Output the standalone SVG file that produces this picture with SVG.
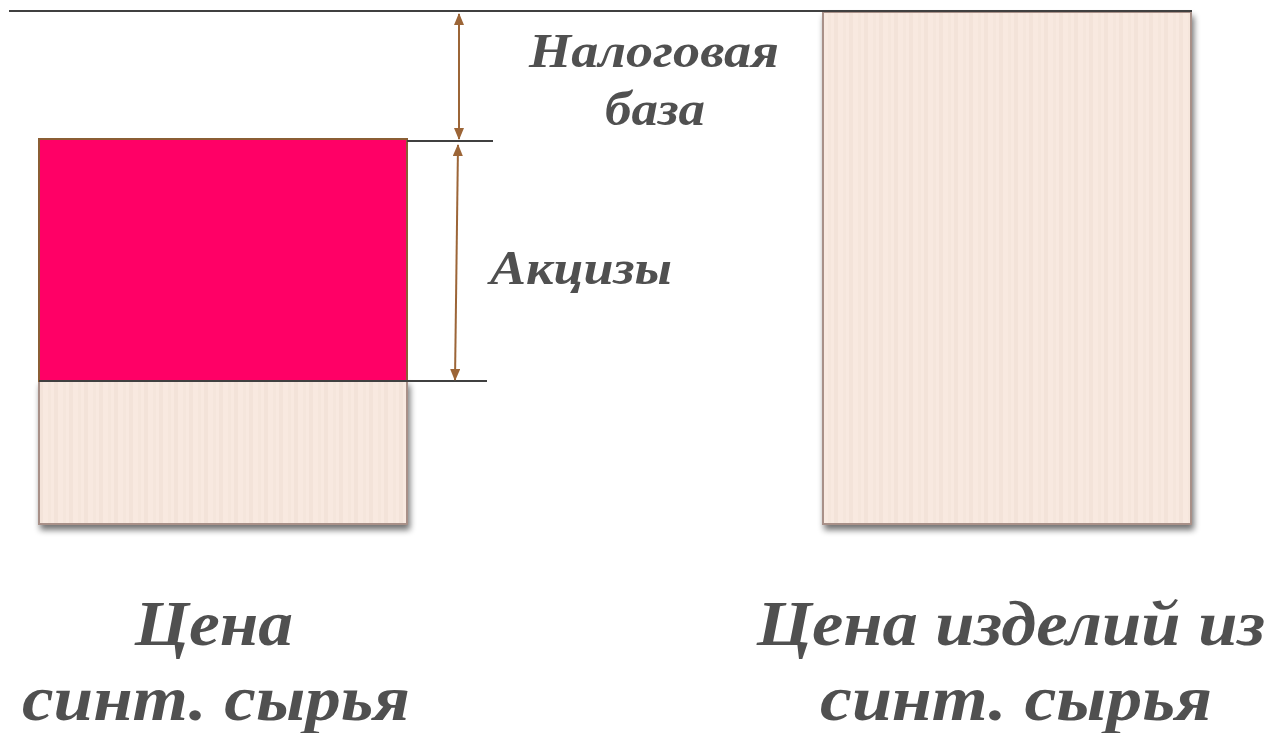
<svg xmlns="http://www.w3.org/2000/svg" width="1278" height="733" viewBox="0 0 1278 733">
<defs>
<style>
.lbl{font-family:"Liberation Serif","DejaVu Serif",serif;font-weight:bold;font-style:italic;fill:#505050;text-anchor:middle}
.dim{stroke:#9C6537;stroke-width:2;fill:none;marker-start:url(#ah);marker-end:url(#ah)}
.ref{stroke:#404040;stroke-width:2}
.beige{fill:url(#stripes);stroke:#A89088;stroke-width:2;filter:url(#sh)}
</style>
<pattern id="stripes" patternUnits="userSpaceOnUse" width="15" height="10" x="39">
<rect width="15" height="10" fill="#F8E9E0"/>
<rect x="0" width="4" height="10" fill="#F3E3D9"/>
<rect x="9" width="3" height="10" fill="#F5E6DC"/>
</pattern>
<filter id="sh" x="-5%" y="-5%" width="115%" height="115%">
<feGaussianBlur in="SourceAlpha" stdDeviation="3"/>
<feOffset dx="2" dy="5" result="b"/>
<feComponentTransfer><feFuncA type="linear" slope="0.55"/></feComponentTransfer>
<feMerge><feMergeNode/><feMergeNode in="SourceGraphic"/></feMerge>
</filter>
<marker id="ah" viewBox="0 0 12 10" refX="11" refY="5" markerWidth="6" markerHeight="5" orient="auto-start-reverse">
<path d="M0,0 L12,5 L0,10 z" fill="#9C6537"/>
</marker>
</defs>
<rect width="1278" height="733" fill="#FFFFFF"/>

<g id="left-base">
<rect class="beige" x="39" y="381" width="368" height="143"/>
</g>
<g id="left-excise">
<rect x="39" y="139" width="368" height="242" fill="#FF0066" stroke="#8B5E34" stroke-width="2"/>
</g>
<g id="right-bar">
<rect class="beige" x="823" y="12" width="368" height="512"/>
</g>

<g id="connectors">
<line class="ref" x1="9" y1="11" x2="1192" y2="11"/>
<line class="ref" x1="407" y1="141" x2="493" y2="141" stroke-width="1.5"/>
<line class="ref" x1="39" y1="381" x2="487" y2="381" stroke-width="1.5"/>
<line class="dim" x1="459" y1="14" x2="459" y2="139"/>
<line class="dim" x1="458" y1="145" x2="455" y2="380"/>
</g>

<g id="label-base">
<text class="lbl" x="654" y="67" font-size="48" textLength="250" lengthAdjust="spacingAndGlyphs">Налоговая</text>
<text class="lbl" x="655" y="125" font-size="48" textLength="100" lengthAdjust="spacingAndGlyphs">база</text>
</g>
<g id="label-excise">
<text class="lbl" x="581" y="284" font-size="48" textLength="182" lengthAdjust="spacingAndGlyphs">Акцизы</text>
</g>
<g id="label-left">
<text class="lbl" x="214" y="645" font-size="64" textLength="158" lengthAdjust="spacingAndGlyphs">Цена</text>
<text class="lbl" x="216" y="720" font-size="64" textLength="388" lengthAdjust="spacingAndGlyphs">синт. сырья</text>
</g>
<g id="label-right">
<text class="lbl" x="1011" y="645" font-size="64" textLength="508" lengthAdjust="spacingAndGlyphs">Цена изделий из</text>
<text class="lbl" x="1016" y="720" font-size="64" textLength="392" lengthAdjust="spacingAndGlyphs">синт. сырья</text>
</g>
</svg>
